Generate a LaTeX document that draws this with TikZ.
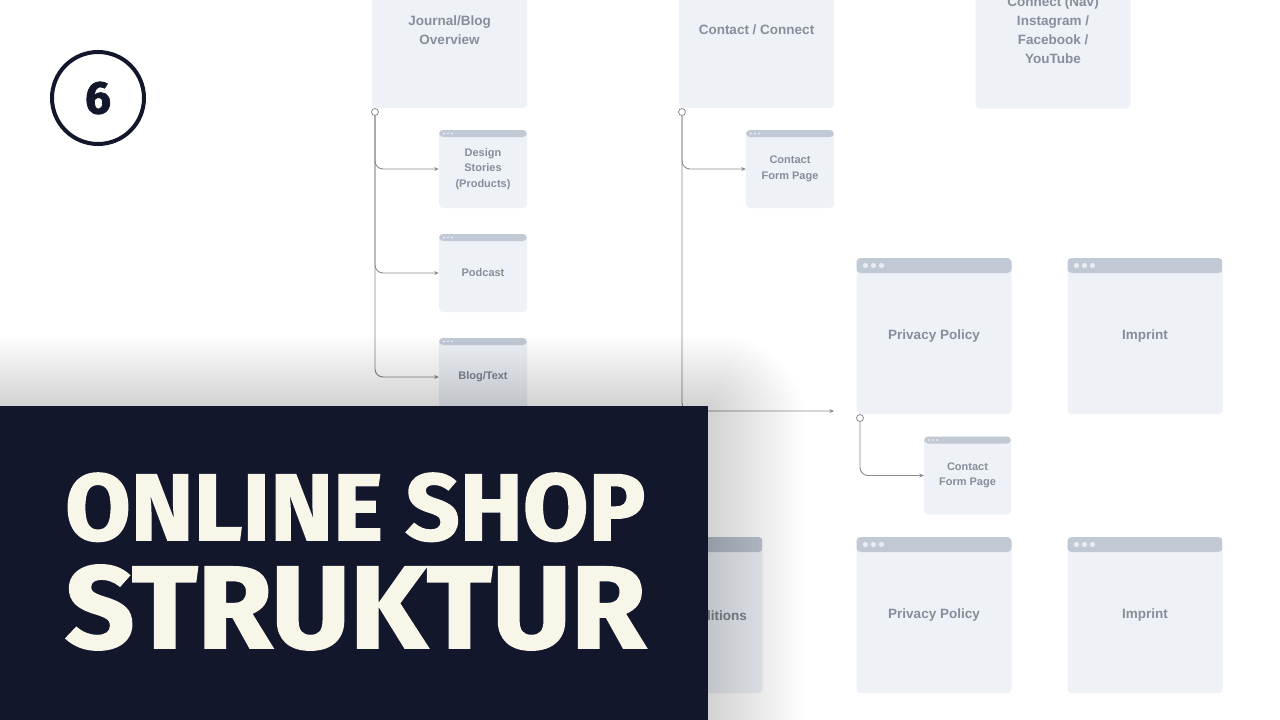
\documentclass[tikz,border=0pt]{standalone}
\usepackage{fontspec}
\setmainfont{Liberation Sans}
\newfontfamily\titlefont{Fira Sans}[BoldFeatures={FakeBold=1.6}]
\usetikzlibrary{arrows.meta}
\definecolor{boxfill}{HTML}{EEF1F6}
\definecolor{hdr}{HTML}{C1C9D4}
\definecolor{dotc}{HTML}{E9EDF3}
\definecolor{txt}{HTML}{878E9B}
\definecolor{conn}{HTML}{8C8C8C}
\definecolor{navy}{HTML}{12172C}
\definecolor{cream}{HTML}{F8F5E9}
\tikzset{
  page/.style={draw=none, fill=boxfill, rounded corners=4pt, align=center, text=txt, inner sep=0pt},
  bigpage/.style={page, minimum width=155pt, minimum height=156pt, font=\fontsize{13.5}{19}\selectfont\bfseries},
  smallpage/.style={page, minimum width=88pt, minimum height=78pt, font=\fontsize{11}{15.5}\selectfont\bfseries},
  bigwin/.style={bigpage, path picture={
      \fill[hdr] ([yshift=-15pt]path picture bounding box.north west) rectangle (path picture bounding box.north east);
      \foreach \k in {0,1,2}
        \fill[dotc] ([xshift=9pt+\k*8pt,yshift=-7.5pt]path picture bounding box.north west) circle (2.6pt);
    }},
  smallwin/.style={smallpage, path picture={
      \fill[hdr] ([yshift=-7pt]path picture bounding box.north west) rectangle (path picture bounding box.north east);
      \foreach \k in {0,1,2}
        \fill[dotc] ([xshift=5pt+\k*4pt,yshift=-3.5pt]path picture bounding box.north west) circle (1.2pt);
    }},
  dotnode/.style={circle, draw=conn, fill=white, line width=0.8pt, minimum size=7pt, inner sep=0pt},
  link/.style={draw=conn, line width=0.9pt, rounded corners=8pt, -{Stealth[length=4.5pt,width=4pt]}},
}
\begin{document}
\begin{tikzpicture}[x=1pt,y=1pt]
\useasboundingbox (0,0) rectangle (1280,-720);
\fill[white] (0,0) rectangle (1280,-720);

% top level pages (headers off the page)
\node[bigpage] (journal) at (449.5,-30) {Journal/Blog\\Overview};
\node[bigpage] (contact) at (756.5,-30) {Contact / Connect};
\node[bigpage] (social) at (1053,-30.5) {Connect (Nav)\\Instagram /\\Facebook /\\YouTube};

% sub pages
\node[smallwin] (design) at (483,-169) {Design\\Stories\\(Products)};
\node[smallwin] (podcast) at (483,-273) {Podcast};
\node[smallwin] (blogtext) at (483,-377) {Blog/Text};
\node[smallwin] (cform1) at (790,-169) {Contact\\Form Page};

\node[bigwin] (privacy) at (934,-336) {Privacy Policy};
\node[bigwin] (imprint) at (1145,-336) {Imprint};
\node[smallwin, minimum width=87pt] (cform2) at (967.5,-475.5) {Contact\\Form Page};

\node[bigwin] (terms) at (685,-615) {};
\node[anchor=east, inner sep=0pt, text=txt, font=\fontsize{13.5}{19}\selectfont\bfseries] (termslabel) at (747,-615.5) {ditions};
\node[bigwin] (privacy2) at (934,-615) {Privacy Policy};
\node[bigwin] (imprint2) at (1145,-615) {Imprint};

% connectors
\node[dotnode] (jc) at (375,-112) {};
\node[dotnode] (cc) at (682,-112) {};
\node[dotnode] (pc) at (860,-418) {};
\coordinate (legal) at (834,-411);

\draw[link] (jc.south) |- (design.west);
\draw[link] (jc.south) |- (podcast.west);
\draw[link] (jc.south) |- (blogtext.west);
\draw[link] (cc.south) |- (cform1.west);
\draw[link] (cc.south) |- (legal);
\draw[link] (pc.south) |- (cform2.west);

% soft shadow of the banner
\foreach \i in {1,...,22}
  \fill[black, fill opacity=0.0065, rounded corners=\i*4pt]
    (-100,-800) rectangle (708+\i*4.4, -406+\i*3.2);

% banner
\node[fill=navy, minimum width=708pt, minimum height=314pt, anchor=north west, inner sep=0pt] (banner) at (0,-406) {};
\node[anchor=base west, inner sep=0pt, text=cream] (t1) at (65,-540)
  {\resizebox{580pt}{67pt}{\titlefont\bfseries ONLINE SHOP}};
\node[anchor=base west, inner sep=0pt, text=cream] (t2) at (65,-648)
  {\resizebox{580pt}{83pt}{\titlefont\bfseries STRUKTUR}};

% number badge
\node[circle, draw=navy, line width=4pt, minimum size=92pt, inner sep=0pt,
      text=navy, font=\titlefont\bfseries\fontsize{46}{46}\selectfont] (num) at (98,-98) {6};
\end{tikzpicture}
\end{document}
